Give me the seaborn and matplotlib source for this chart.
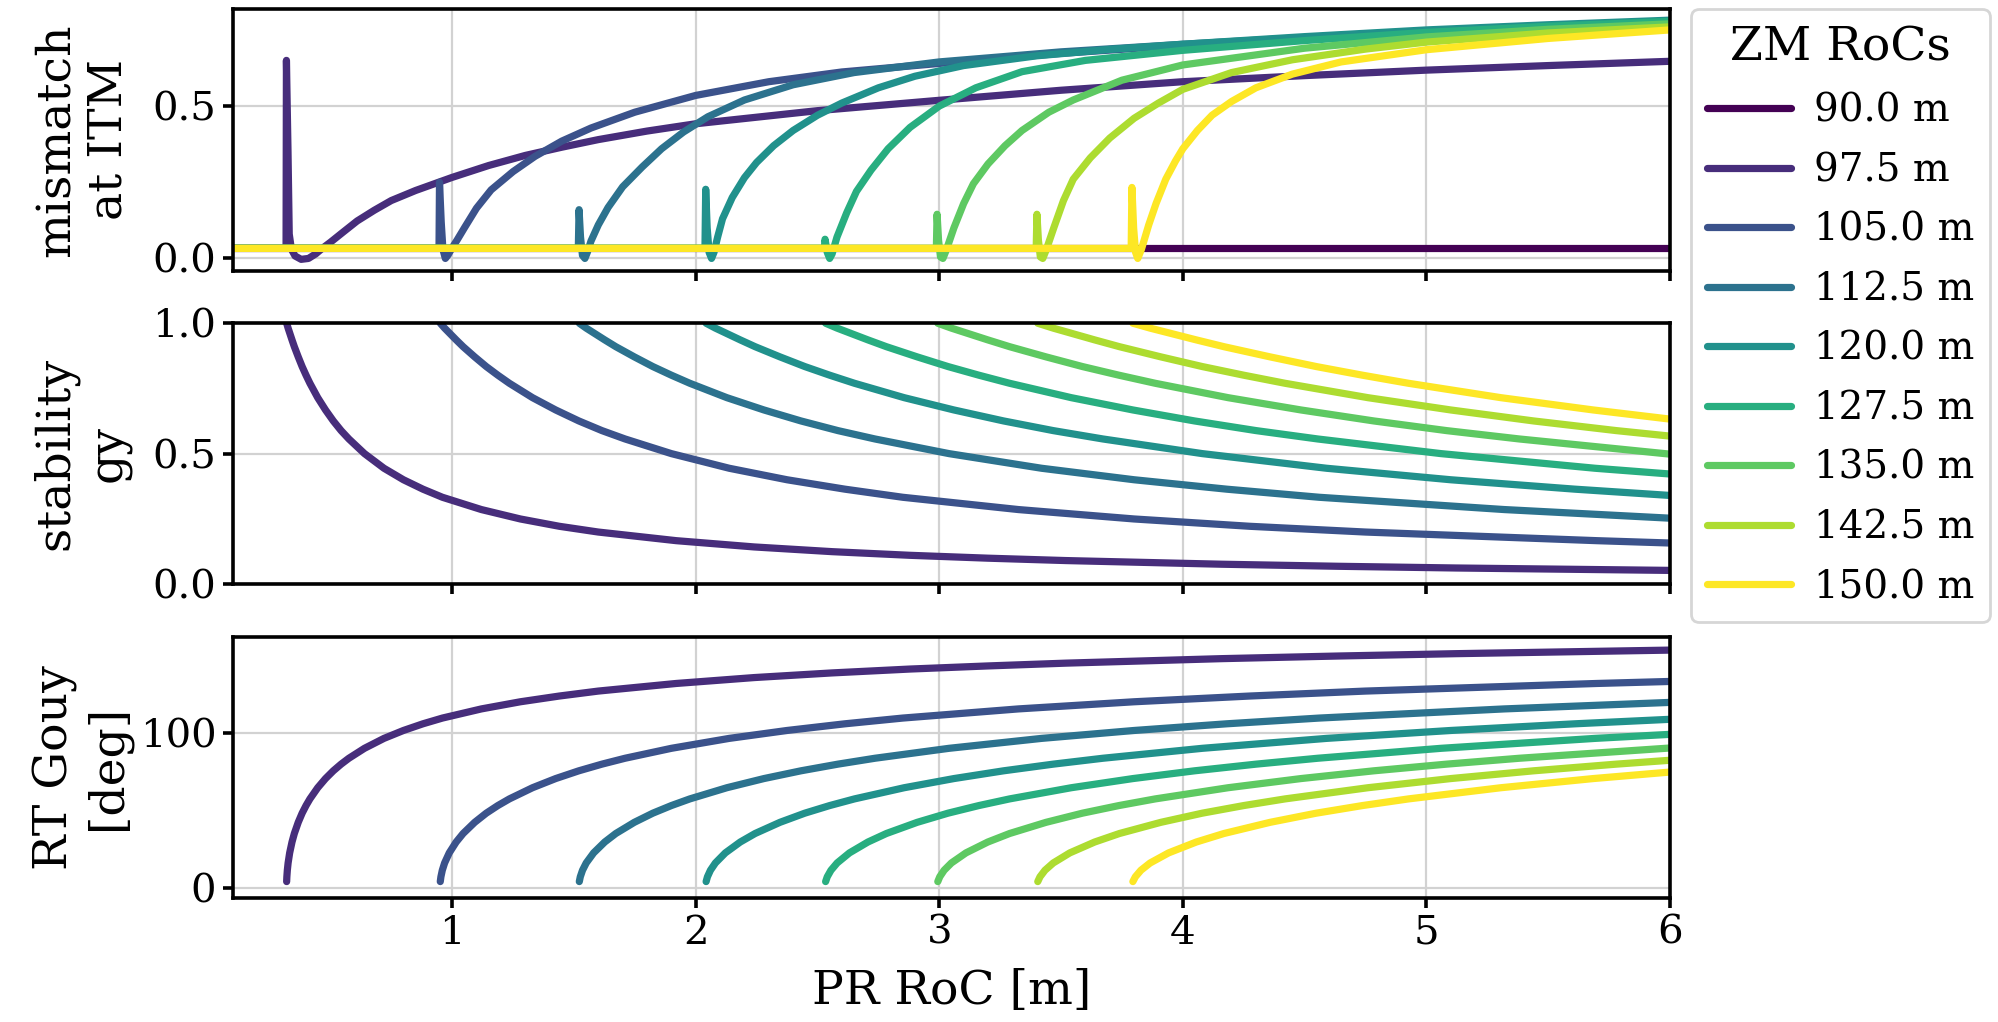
import numpy as np
import pandas as pd
import matplotlib
matplotlib.use("Agg")
import matplotlib.pyplot as plt
import seaborn as sns

# ---------------- data ----------------
zm_labels = ["90.0 m", "97.5 m", "105.0 m", "112.5 m", "120.0 m",
             "127.5 m", "135.0 m", "142.5 m", "150.0 m"]

# mismatch at ITM (x = PR RoC [m])
mis_x_90_0 = [0.1, 6.0]
mis_90_0 = [0.033, 0.033]

mis_x_97_5 = [0.1, 0.318, 0.3195, 0.326, 0.331, 0.34, 0.355, 0.38, 0.41, 0.44,
              0.462, 0.5, 0.55, 0.61, 0.68, 0.75, 0.85, 1.0, 1.15, 1.3,
              1.45, 1.6, 1.8, 2.0, 2.5, 3.0, 3.5, 4.0, 4.5, 5.0, 5.5, 6.0]
mis_97_5 = [0.033, 0.033, 0.65, 0.35, 0.08, 0.03, 0.008, -0.003, 0.0, 0.015,
            0.03, 0.053, 0.085, 0.123, 0.158, 0.19, 0.223, 0.266, 0.305, 0.338,
            0.365, 0.39, 0.418, 0.442, 0.485, 0.519, 0.552, 0.58, 0.60, 0.618, 0.633, 0.647]

mis_x_105_0 = [0.1, 0.946, 0.948, 0.955, 0.962, 0.972, 0.982, 1.0, 1.02, 1.05,
               1.1, 1.16, 1.25, 1.34, 1.45, 1.57, 1.75, 2.0, 2.3, 2.6,
               3.0, 3.5, 4.0, 4.5, 5.0, 5.5, 6.0]
mis_105_0 = [0.033, 0.033, 0.25, 0.12, 0.03, 0.0, 0.01, 0.035, 0.06, 0.1,
             0.165, 0.225, 0.285, 0.335, 0.385, 0.428, 0.48, 0.535, 0.58, 0.612,
             0.64, 0.673, 0.70, 0.72, 0.738, 0.752, 0.765]

mis_x_112_5 = [0.1, 1.518, 1.521, 1.527, 1.535, 1.545, 1.555, 1.57, 1.6, 1.64,
               1.7, 1.78, 1.86, 1.95, 2.05, 2.2, 2.4, 2.65, 3.0, 3.5,
               4.0, 4.5, 5.0, 5.5, 6.0]
mis_112_5 = [0.033, 0.033, 0.16, 0.07, 0.01, 0.0, 0.02, 0.057, 0.11, 0.167,
             0.235, 0.30, 0.36, 0.415, 0.465, 0.52, 0.57, 0.61, 0.645, 0.678,
             0.703, 0.725, 0.745, 0.762, 0.777]

mis_x_120_0 = [0.1, 2.038, 2.041, 2.047, 2.055, 2.065, 2.075, 2.09, 2.11, 2.15,
               2.2, 2.25, 2.32, 2.4, 2.5, 2.6, 2.75, 2.9, 3.1, 3.4,
               3.7, 4.0, 4.5, 5.0, 5.5, 6.0]
mis_120_0 = [0.033, 0.033, 0.227, 0.1, 0.02, 0.0, 0.02, 0.07, 0.13, 0.2,
             0.265, 0.315, 0.37, 0.42, 0.47, 0.51, 0.56, 0.598, 0.633, 0.665,
             0.686, 0.703, 0.728, 0.75, 0.767, 0.782]

mis_x_127_5 = [0.1, 2.528, 2.531, 2.54, 2.55, 2.56, 2.58, 2.62, 2.66, 2.72,
               2.79, 2.88, 3.0, 3.15, 3.34, 3.6, 4.0, 4.5, 5.0, 5.5, 6.0]
mis_127_5 = [0.033, 0.033, 0.063, 0.02, 0.0, 0.015, 0.07, 0.15, 0.22, 0.29,
             0.36, 0.43, 0.50, 0.56, 0.613, 0.65, 0.683, 0.715, 0.742, 0.762, 0.778]

mis_x_135_0 = [0.1, 2.988, 2.991, 2.997, 3.005, 3.015, 3.03, 3.06, 3.1, 3.14,
               3.2, 3.27, 3.34, 3.45, 3.55, 3.75, 4.0, 4.5, 5.0, 5.5, 6.0]
mis_135_0 = [0.033, 0.033, 0.145, 0.06, 0.005, 0.0, 0.03, 0.1, 0.18, 0.245,
             0.31, 0.37, 0.42, 0.48, 0.52, 0.585, 0.635, 0.69, 0.727, 0.752, 0.77]

mis_x_142_5 = [0.1, 3.398, 3.401, 3.407, 3.415, 3.425, 3.44, 3.47, 3.51, 3.55,
               3.62, 3.7, 3.8, 3.9, 4.0, 4.2, 4.45, 4.75, 5.0, 5.5, 6.0]
mis_142_5 = [0.033, 0.033, 0.145, 0.06, 0.005, 0.0, 0.03, 0.1, 0.19, 0.26,
             0.33, 0.395, 0.46, 0.51, 0.555, 0.61, 0.652, 0.687, 0.71, 0.74, 0.76]

mis_x_150_0 = [0.1, 3.788, 3.791, 3.798, 3.806, 3.815, 3.83, 3.86, 3.89, 3.93,
               3.97, 4.0, 4.06, 4.12, 4.2, 4.3, 4.45, 4.65, 5.0, 5.5, 6.0]
mis_150_0 = [0.033, 0.033, 0.233, 0.1, 0.02, 0.0, 0.03, 0.11, 0.18, 0.26,
             0.32, 0.36, 0.42, 0.47, 0.515, 0.56, 0.605, 0.645, 0.685, 0.722, 0.75]

# stability gy and round-trip Gouy phase [deg] (shared x per ZM RoC)
gy_x_97_5 = [0.3204, 0.3213, 0.3232, 0.3264, 0.3328, 0.3424, 0.352, 0.368, 0.384, 0.4,
             0.416, 0.448, 0.48, 0.512, 0.544, 0.576, 0.64, 0.72, 0.8, 0.88,
             0.96, 1.12, 1.28, 1.44, 1.6, 1.92, 2.24, 2.56, 2.88, 3.2,
             3.52, 4.16, 4.64, 5.12, 6.0]
stab_97_5 = [0.9987, 0.996, 0.990, 0.980, 0.962, 0.935, 0.909, 0.870, 0.833, 0.8,
             0.769, 0.714, 0.667, 0.625, 0.588, 0.556, 0.5, 0.444, 0.4, 0.364,
             0.333, 0.286, 0.25, 0.222, 0.2, 0.167, 0.143, 0.125, 0.111, 0.1,
             0.0909, 0.0769, 0.069, 0.0625, 0.0533]
gouy_97_5 = [4.1, 7.2, 11.4, 16.1, 22.6, 29.6, 35.1, 42.3, 48.2, 53.1,
             57.4, 64.6, 70.5, 75.5, 79.8, 83.6, 90.0, 96.4, 101.5, 105.8,
             109.5, 115.4, 120.0, 123.7, 126.9, 131.8, 135.6, 138.6, 141.1, 143.1,
             144.9, 147.8, 149.5, 151.0, 153.3]

gy_x_105_0 = [0.9512, 0.9538, 0.9595, 0.969, 0.988, 1.0165, 1.045, 1.0925, 1.14, 1.1875,
              1.235, 1.33, 1.425, 1.52, 1.615, 1.71, 1.9, 2.1375, 2.375, 2.6125,
              2.85, 3.325, 3.8, 4.275, 4.75, 5.7, 6.0]
stab_105_0 = [0.9987, 0.996, 0.990, 0.980, 0.962, 0.935, 0.909, 0.870, 0.833, 0.8,
              0.769, 0.714, 0.667, 0.625, 0.588, 0.556, 0.5, 0.444, 0.4, 0.364,
              0.333, 0.286, 0.25, 0.222, 0.2, 0.167, 0.158]
gouy_105_0 = [4.1, 7.2, 11.4, 16.1, 22.6, 29.6, 35.1, 42.3, 48.2, 53.1,
              57.4, 64.6, 70.5, 75.5, 79.8, 83.6, 90.0, 96.4, 101.5, 105.8,
              109.5, 115.4, 120.0, 123.7, 126.9, 131.8, 133.1]

gy_x_112_5 = [1.522, 1.5261, 1.5352, 1.5504, 1.5808, 1.6264, 1.672, 1.748, 1.824, 1.9,
              1.976, 2.128, 2.28, 2.432, 2.584, 2.736, 3.04, 3.42, 3.8, 4.18,
              4.56, 5.32, 6.0]
stab_112_5 = [0.9987, 0.996, 0.990, 0.980, 0.962, 0.935, 0.909, 0.870, 0.833, 0.8,
              0.769, 0.714, 0.667, 0.625, 0.588, 0.556, 0.5, 0.444, 0.4, 0.364,
              0.333, 0.286, 0.253]
gouy_112_5 = [4.1, 7.2, 11.4, 16.1, 22.6, 29.6, 35.1, 42.3, 48.2, 53.1,
              57.4, 64.6, 70.5, 75.5, 79.8, 83.6, 90.0, 96.4, 101.5, 105.8,
              109.5, 115.4, 119.6]

gy_x_120_0 = [2.0427, 2.0482, 2.0604, 2.0808, 2.1216, 2.1828, 2.244, 2.346, 2.448, 2.55,
              2.652, 2.856, 3.06, 3.264, 3.468, 3.672, 4.08, 4.59, 5.1, 5.61, 6.0]
stab_120_0 = [0.9987, 0.996, 0.990, 0.980, 0.962, 0.935, 0.909, 0.870, 0.833, 0.8,
              0.769, 0.714, 0.667, 0.625, 0.588, 0.556, 0.5, 0.444, 0.4, 0.364, 0.34]
gouy_120_0 = [4.1, 7.2, 11.4, 16.1, 22.6, 29.6, 35.1, 42.3, 48.2, 53.1,
              57.4, 64.6, 70.5, 75.5, 79.8, 83.6, 90.0, 96.4, 101.5, 105.8, 108.7]

gy_x_127_5 = [2.5333, 2.5401, 2.5553, 2.5806, 2.6312, 2.7071, 2.783, 2.9095, 3.036, 3.1625,
              3.289, 3.542, 3.795, 4.048, 4.301, 4.554, 5.06, 5.6925, 6.0]
stab_127_5 = [0.9987, 0.996, 0.990, 0.980, 0.962, 0.935, 0.909, 0.870, 0.833, 0.8,
              0.769, 0.714, 0.667, 0.625, 0.588, 0.556, 0.5, 0.444, 0.422]
gouy_127_5 = [4.1, 7.2, 11.4, 16.1, 22.6, 29.6, 35.1, 42.3, 48.2, 53.1,
              57.4, 64.6, 70.5, 75.5, 79.8, 83.6, 90.0, 96.4, 99.0]

gy_x_135_0 = [2.9939, 3.002, 3.0199, 3.0498, 3.1096, 3.1993, 3.289, 3.4385, 3.588, 3.7375,
              3.887, 4.186, 4.485, 4.784, 5.083, 5.382, 6.0]
stab_135_0 = [0.9987, 0.996, 0.990, 0.980, 0.962, 0.935, 0.909, 0.870, 0.833, 0.8,
              0.769, 0.714, 0.667, 0.625, 0.588, 0.556, 0.498]
gouy_135_0 = [4.1, 7.2, 11.4, 16.1, 22.6, 29.6, 35.1, 42.3, 48.2, 53.1,
              57.4, 64.6, 70.5, 75.5, 79.8, 83.6, 90.2]

gy_x_142_5 = [3.4044, 3.4136, 3.434, 3.468, 3.536, 3.638, 3.74, 3.91, 4.08, 4.25,
              4.42, 4.76, 5.1, 5.44, 5.78, 6.0]
stab_142_5 = [0.9987, 0.996, 0.990, 0.980, 0.962, 0.935, 0.909, 0.870, 0.833, 0.8,
              0.769, 0.714, 0.667, 0.625, 0.588, 0.567]
gouy_142_5 = [4.1, 7.2, 11.4, 16.1, 22.6, 29.6, 35.1, 42.3, 48.2, 53.1,
              57.4, 64.6, 70.5, 75.5, 79.8, 82.3]

gy_x_150_0 = [3.7949, 3.8052, 3.8279, 3.8658, 3.9416, 4.0553, 4.169, 4.3585, 4.548, 4.7375,
              4.927, 5.306, 5.685, 6.0]
stab_150_0 = [0.9987, 0.996, 0.990, 0.980, 0.962, 0.935, 0.909, 0.870, 0.833, 0.8,
              0.769, 0.714, 0.667, 0.632]
gouy_150_0 = [4.1, 7.2, 11.4, 16.1, 22.6, 29.6, 35.1, 42.3, 48.2, 53.1,
              57.4, 64.6, 70.5, 74.7]

# ---------------- tidy tables ----------------
mis_series = [(zm_labels[0], mis_x_90_0, mis_90_0), (zm_labels[1], mis_x_97_5, mis_97_5),
              (zm_labels[2], mis_x_105_0, mis_105_0), (zm_labels[3], mis_x_112_5, mis_112_5),
              (zm_labels[4], mis_x_120_0, mis_120_0), (zm_labels[5], mis_x_127_5, mis_127_5),
              (zm_labels[6], mis_x_135_0, mis_135_0), (zm_labels[7], mis_x_142_5, mis_142_5),
              (zm_labels[8], mis_x_150_0, mis_150_0)]
gy_series = [(zm_labels[1], gy_x_97_5, stab_97_5, gouy_97_5),
             (zm_labels[2], gy_x_105_0, stab_105_0, gouy_105_0),
             (zm_labels[3], gy_x_112_5, stab_112_5, gouy_112_5),
             (zm_labels[4], gy_x_120_0, stab_120_0, gouy_120_0),
             (zm_labels[5], gy_x_127_5, stab_127_5, gouy_127_5),
             (zm_labels[6], gy_x_135_0, stab_135_0, gouy_135_0),
             (zm_labels[7], gy_x_142_5, stab_142_5, gouy_142_5),
             (zm_labels[8], gy_x_150_0, stab_150_0, gouy_150_0)]

df_mis = pd.concat([pd.DataFrame({"x": x, "y": y, "zm": lab}) for lab, x, y in mis_series],
                   ignore_index=True)
df_stab = pd.concat([pd.DataFrame({"x": x, "y": s, "zm": lab}) for lab, x, s, g in gy_series],
                    ignore_index=True)
df_gouy = pd.concat([pd.DataFrame({"x": x, "y": g, "zm": lab}) for lab, x, s, g in gy_series],
                    ignore_index=True)

# ---------------- style ----------------
sns.set_theme(style="ticks")
plt.rcParams.update({
    "font.family": ["DejaVu Serif"],
    "axes.edgecolor": "black",
    "axes.linewidth": 1.3,
    "xtick.color": "black", "ytick.color": "black",
    "xtick.major.size": 3.5, "ytick.major.size": 3.5,
    "xtick.major.width": 1.3, "ytick.major.width": 1.3,
    "xtick.major.pad": 2.5, "ytick.major.pad": 2.5,
    "xtick.labelsize": 14.5, "ytick.labelsize": 14.5,
    "axes.labelsize": 17,
    "grid.color": "#d2d2d2", "grid.linewidth": 0.8,
    "text.color": "black", "axes.labelcolor": "black",
    "legend.frameon": True,
})

colors = [plt.cm.viridis(v) for v in np.linspace(0, 1, len(zm_labels))]
palette = dict(zip(zm_labels, colors))
LW = 2.6

fig, axes = plt.subplots(3, 1, figsize=(9.99, 5.11), dpi=200, sharex=True)
fig.subplots_adjust(left=0.1166, right=0.8358, top=0.991, bottom=0.1213, hspace=0.2)

sns.lineplot(data=df_mis, x="x", y="y", hue="zm", hue_order=zm_labels, palette=palette,
             estimator=None, sort=False, lw=LW, ax=axes[0], legend=False)
sns.lineplot(data=df_stab, x="x", y="y", hue="zm", hue_order=zm_labels[1:], palette=palette,
             estimator=None, sort=False, lw=LW, ax=axes[1], legend=False)
sns.lineplot(data=df_gouy, x="x", y="y", hue="zm", hue_order=zm_labels[1:], palette=palette,
             estimator=None, sort=False, lw=LW, ax=axes[2], legend=False)

for ax in axes:
    ax.grid(True)
    ax.set_xlabel("")
    ax.set_xlim(0.1, 6.0)
    ax.tick_params(direction="out")

axes[0].set_ylim(-0.04, 0.818)
axes[0].set_yticks([0.0, 0.5])
axes[1].set_ylim(0.0, 1.0)
axes[1].set_yticks([0.0, 0.5, 1.0])
axes[2].set_ylim(-6.5, 162)
axes[2].set_yticks([0, 100])
axes[2].set_xticks([1, 2, 3, 4, 5, 6])

axes[0].set_ylabel("mismatch\nat ITM", labelpad=3)
axes[1].set_ylabel("stability\ngy", labelpad=3)
axes[2].set_ylabel("RT Gouy\n[deg]", labelpad=3)
axes[2].set_xlabel("PR RoC [m]", labelpad=6)
fig.align_ylabels(axes)

handles = axes[0].get_lines()[:len(zm_labels)]
leg = axes[0].legend(handles, zm_labels, title="ZM RoCs", loc="upper left",
                     bbox_to_anchor=(1.015, 1.0), borderaxespad=0, fontsize=14,
                     title_fontsize=17, handlelength=2.15, handletextpad=0.6,
                     labelspacing=0.58, frameon=True)
for h in leg.get_lines():
    h.set_linewidth(LW)

fig.savefig("out.png", dpi=200)
